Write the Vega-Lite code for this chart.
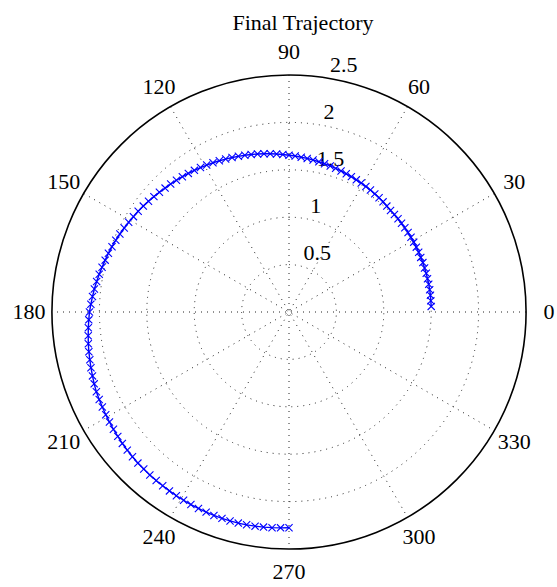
{
  "$schema": "https://vega.github.io/schema/vega-lite/v6.json",
  "width": 474,
  "height": 474,
  "autosize": {"type": "none"},
  "padding": {"left": 52, "top": 75, "right": 31, "bottom": 38},
  "background": "white",
  "title": {"text": "Final Trajectory", "font": "Liberation Serif", "fontSize": 22, "fontWeight": "normal", "color": "black", "anchor": "middle", "offset": 9, "dx": 14, "dy": 20, "baseline": "alphabetic"},
  "config": {"view": {"stroke": null}},
  "datasets": {
    "circles": [{"r": 0.5}, {"r": 1}, {"r": 1.5}, {"r": 2}],
    "outer": [{"r": 2.5}],
    "spokes": [
      {"x": 2.5, "y": 0, "x2": -2.5, "y2": 0},
      {"x": 2.165, "y": 1.25, "x2": -2.165, "y2": -1.25},
      {"x": 1.25, "y": 2.165, "x2": -1.25, "y2": -2.165},
      {"x": 0, "y": 2.5, "x2": 0, "y2": -2.5},
      {"x": -1.25, "y": 2.165, "x2": 1.25, "y2": -2.165},
      {"x": -2.165, "y": 1.25, "x2": 2.165, "y2": -1.25}
    ],
    "angles": [
      {"a": 0, "label": "0"}, {"a": 30, "label": "30"}, {"a": 60, "label": "60"}, {"a": 90, "label": "90"},
      {"a": 120, "label": "120"}, {"a": 150, "label": "150"}, {"a": 180, "label": "180"}, {"a": 210, "label": "210"},
      {"a": 240, "label": "240"}, {"a": 270, "label": "270"}, {"a": 300, "label": "300"}, {"a": 330, "label": "330"}
    ],
    "rlabels": [
      {"r": 0.5, "label": "0.5"}, {"r": 1, "label": "1"}, {"r": 1.5, "label": "1.5"}, {"r": 2, "label": "2"}, {"r": 2.5, "label": "2.5"}
    ],
    "traj": [
      {"t": 2.25, "x": 1.500, "y": 0.059}, {"t": 4.5, "x": 1.496, "y": 0.118}, {"t": 6.75, "x": 1.492, "y": 0.177},
      {"t": 9, "x": 1.484, "y": 0.235}, {"t": 11.25, "x": 1.474, "y": 0.293}, {"t": 13.5, "x": 1.461, "y": 0.351},
      {"t": 15.75, "x": 1.448, "y": 0.408}, {"t": 18, "x": 1.430, "y": 0.465}, {"t": 20.25, "x": 1.412, "y": 0.521},
      {"t": 22.5, "x": 1.390, "y": 0.576}, {"t": 24.75, "x": 1.368, "y": 0.630}, {"t": 27, "x": 1.343, "y": 0.684},
      {"t": 29.25, "x": 1.316, "y": 0.737}, {"t": 31.5, "x": 1.287, "y": 0.788}, {"t": 33.75, "x": 1.256, "y": 0.839},
      {"t": 36, "x": 1.222, "y": 0.888}, {"t": 38.25, "x": 1.187, "y": 0.936}, {"t": 40.5, "x": 1.150, "y": 0.983},
      {"t": 42.75, "x": 1.112, "y": 1.028}, {"t": 45, "x": 1.071, "y": 1.071}, {"t": 47.25, "x": 1.032, "y": 1.117},
      {"t": 49.5, "x": 0.992, "y": 1.162}, {"t": 51.75, "x": 0.950, "y": 1.205}, {"t": 54, "x": 0.905, "y": 1.246},
      {"t": 56.25, "x": 0.859, "y": 1.286}, {"t": 58.5, "x": 0.811, "y": 1.324}, {"t": 60.75, "x": 0.762, "y": 1.360},
      {"t": 63, "x": 0.710, "y": 1.394}, {"t": 65.25, "x": 0.658, "y": 1.428}, {"t": 67.5, "x": 0.604, "y": 1.458},
      {"t": 69.75, "x": 0.549, "y": 1.488}, {"t": 72, "x": 0.492, "y": 1.515}, {"t": 74.25, "x": 0.435, "y": 1.541},
      {"t": 76.5, "x": 0.375, "y": 1.564}, {"t": 78.75, "x": 0.315, "y": 1.585}, {"t": 81, "x": 0.254, "y": 1.603},
      {"t": 83.25, "x": 0.192, "y": 1.620}, {"t": 85.5, "x": 0.129, "y": 1.633}, {"t": 87.75, "x": 0.065, "y": 1.645},
      {"t": 90, "x": 0.000, "y": 1.653}, {"t": 92.25, "x": -0.065, "y": 1.661}, {"t": 94.5, "x": -0.131, "y": 1.667},
      {"t": 96.75, "x": -0.198, "y": 1.669}, {"t": 99, "x": -0.264, "y": 1.669}, {"t": 101.25, "x": -0.332, "y": 1.667},
      {"t": 103.5, "x": -0.399, "y": 1.662}, {"t": 105.75, "x": -0.466, "y": 1.654}, {"t": 108, "x": -0.534, "y": 1.642},
      {"t": 110.25, "x": -0.601, "y": 1.630}, {"t": 112.5, "x": -0.668, "y": 1.613}, {"t": 114.75, "x": -0.735, "y": 1.595},
      {"t": 117, "x": -0.802, "y": 1.574}, {"t": 119.25, "x": -0.868, "y": 1.550}, {"t": 121.5, "x": -0.934, "y": 1.524},
      {"t": 123.75, "x": -0.998, "y": 1.494}, {"t": 126, "x": -1.062, "y": 1.462}, {"t": 128.25, "x": -1.125, "y": 1.427},
      {"t": 130.5, "x": -1.187, "y": 1.390}, {"t": 132.75, "x": -1.248, "y": 1.350}, {"t": 135, "x": -1.307, "y": 1.307},
      {"t": 137.25, "x": -1.367, "y": 1.263}, {"t": 139.5, "x": -1.425, "y": 1.217}, {"t": 141.75, "x": -1.482, "y": 1.168},
      {"t": 144, "x": -1.537, "y": 1.117}, {"t": 146.25, "x": -1.591, "y": 1.063}, {"t": 148.5, "x": -1.641, "y": 1.006},
      {"t": 150.75, "x": -1.691, "y": 0.947}, {"t": 153, "x": -1.738, "y": 0.886}, {"t": 155.25, "x": -1.784, "y": 0.822},
      {"t": 157.5, "x": -1.827, "y": 0.757}, {"t": 159.75, "x": -1.867, "y": 0.689}, {"t": 162, "x": -1.905, "y": 0.619},
      {"t": 164.25, "x": -1.939, "y": 0.547}, {"t": 166.5, "x": -1.972, "y": 0.473}, {"t": 168.75, "x": -2.002, "y": 0.398},
      {"t": 171, "x": -2.029, "y": 0.321}, {"t": 173.25, "x": -2.053, "y": 0.243}, {"t": 175.5, "x": -2.073, "y": 0.163},
      {"t": 177.75, "x": -2.090, "y": 0.082}, {"t": 180, "x": -2.105, "y": 0.000}, {"t": 182.25, "x": -2.112, "y": -0.083},
      {"t": 184.5, "x": -2.117, "y": -0.167}, {"t": 186.75, "x": -2.118, "y": -0.251}, {"t": 189, "x": -2.117, "y": -0.335},
      {"t": 191.25, "x": -2.111, "y": -0.420}, {"t": 193.5, "x": -2.101, "y": -0.504}, {"t": 195.75, "x": -2.089, "y": -0.589},
      {"t": 198, "x": -2.073, "y": -0.674}, {"t": 200.25, "x": -2.055, "y": -0.758}, {"t": 202.5, "x": -2.032, "y": -0.842},
      {"t": 204.75, "x": -2.002, "y": -0.923}, {"t": 207, "x": -1.969, "y": -1.003}, {"t": 209.25, "x": -1.933, "y": -1.083},
      {"t": 211.5, "x": -1.894, "y": -1.160}, {"t": 213.75, "x": -1.852, "y": -1.237}, {"t": 216, "x": -1.806, "y": -1.312},
      {"t": 218.25, "x": -1.758, "y": -1.386}, {"t": 220.5, "x": -1.706, "y": -1.457}, {"t": 222.75, "x": -1.651, "y": -1.527},
      {"t": 225, "x": -1.594, "y": -1.594}, {"t": 227.25, "x": -1.532, "y": -1.657}, {"t": 229.5, "x": -1.468, "y": -1.719},
      {"t": 231.75, "x": -1.401, "y": -1.777}, {"t": 234, "x": -1.332, "y": -1.833}, {"t": 236.25, "x": -1.261, "y": -1.887},
      {"t": 238.5, "x": -1.188, "y": -1.938}, {"t": 240.75, "x": -1.112, "y": -1.986}, {"t": 243, "x": -1.035, "y": -2.031},
      {"t": 245.25, "x": -0.955, "y": -2.072}, {"t": 247.5, "x": -0.874, "y": -2.111}, {"t": 249.75, "x": -0.792, "y": -2.146},
      {"t": 252, "x": -0.707, "y": -2.177}, {"t": 254.25, "x": -0.622, "y": -2.204}, {"t": 256.5, "x": -0.535, "y": -2.227},
      {"t": 258.75, "x": -0.447, "y": -2.245}, {"t": 261, "x": -0.358, "y": -2.259}, {"t": 263.25, "x": -0.269, "y": -2.269},
      {"t": 265.5, "x": -0.179, "y": -2.275}, {"t": 267.75, "x": -0.089, "y": -2.277}, {"t": 270, "x": 0.000, "y": -2.276}
    ]
  },
  "layer": [
    {
      "data": {"name": "circles"},
      "mark": {"type": "arc", "theta": 0, "theta2": 6.2832, "filled": false, "stroke": "#222222", "strokeWidth": 1, "strokeDash": [1, 5]},
      "encoding": {
        "radius": {"field": "r", "type": "quantitative", "stack": null, "scale": {"type": "linear", "domain": [0, 2.5], "range": [0, 237], "zero": true}}
      }
    },
    {
      "data": {"name": "spokes"},
      "mark": {"type": "rule", "stroke": "#222222", "strokeWidth": 1, "strokeDash": [1, 5]},
      "encoding": {
        "x": {"field": "x", "type": "quantitative", "scale": {"domain": [-2.5, 2.5], "nice": false, "zero": false}, "axis": null},
        "y": {"field": "y", "type": "quantitative", "scale": {"domain": [-2.5, 2.5], "nice": false, "zero": false}, "axis": null},
        "x2": {"field": "x2"},
        "y2": {"field": "y2"}
      }
    },
    {
      "data": {"name": "outer"},
      "mark": {"type": "arc", "theta": 0, "theta2": 6.2832, "filled": false, "stroke": "black", "strokeWidth": 1.6},
      "encoding": {
        "radius": {"field": "r", "type": "quantitative", "stack": null, "scale": {"type": "linear", "domain": [0, 2.5], "range": [0, 237], "zero": true}}
      }
    },
    {
      "data": {"name": "angles"},
      "mark": {"type": "text", "font": "Liberation Serif", "fontSize": 22, "color": "black", "align": "center", "baseline": "middle"},
      "encoding": {
        "theta": {"field": "a", "type": "quantitative", "scale": {"type": "linear", "domain": [0, 360], "range": [1.5707963, -4.712389]}},
        "radius": {"value": 260},
        "text": {"field": "label"}
      }
    },
    {
      "data": {"name": "rlabels"},
      "mark": {"type": "text", "font": "Liberation Serif", "fontSize": 22, "color": "black", "align": "left", "baseline": "bottom", "dx": 8},
      "encoding": {
        "theta": {"datum": 82, "type": "quantitative", "scale": {"type": "linear", "domain": [0, 360], "range": [1.5707963, -4.712389]}},
        "radius": {"field": "r", "type": "quantitative", "stack": null, "scale": {"type": "linear", "domain": [0, 2.5], "range": [0, 237], "zero": true}},
        "text": {"field": "label"}
      }
    },
    {
      "data": {"name": "traj"},
      "mark": {"type": "line", "color": "#0000ff", "strokeWidth": 1.4},
      "encoding": {
        "x": {"field": "x", "type": "quantitative", "scale": {"domain": [-2.5, 2.5], "nice": false, "zero": false}, "axis": null},
        "y": {"field": "y", "type": "quantitative", "scale": {"domain": [-2.5, 2.5], "nice": false, "zero": false}, "axis": null},
        "order": {"field": "t", "type": "quantitative"}
      }
    },
    {
      "data": {"name": "traj"},
      "mark": {"type": "point", "shape": "M-1,-1L1,1M-1,1L1,-1", "filled": false, "stroke": "#0000ff", "strokeWidth": 1.1, "size": 52, "opacity": 1},
      "encoding": {
        "x": {"field": "x", "type": "quantitative", "scale": {"domain": [-2.5, 2.5], "nice": false, "zero": false}, "axis": null},
        "y": {"field": "y", "type": "quantitative", "scale": {"domain": [-2.5, 2.5], "nice": false, "zero": false}, "axis": null}
      }
    }
  ]
}
